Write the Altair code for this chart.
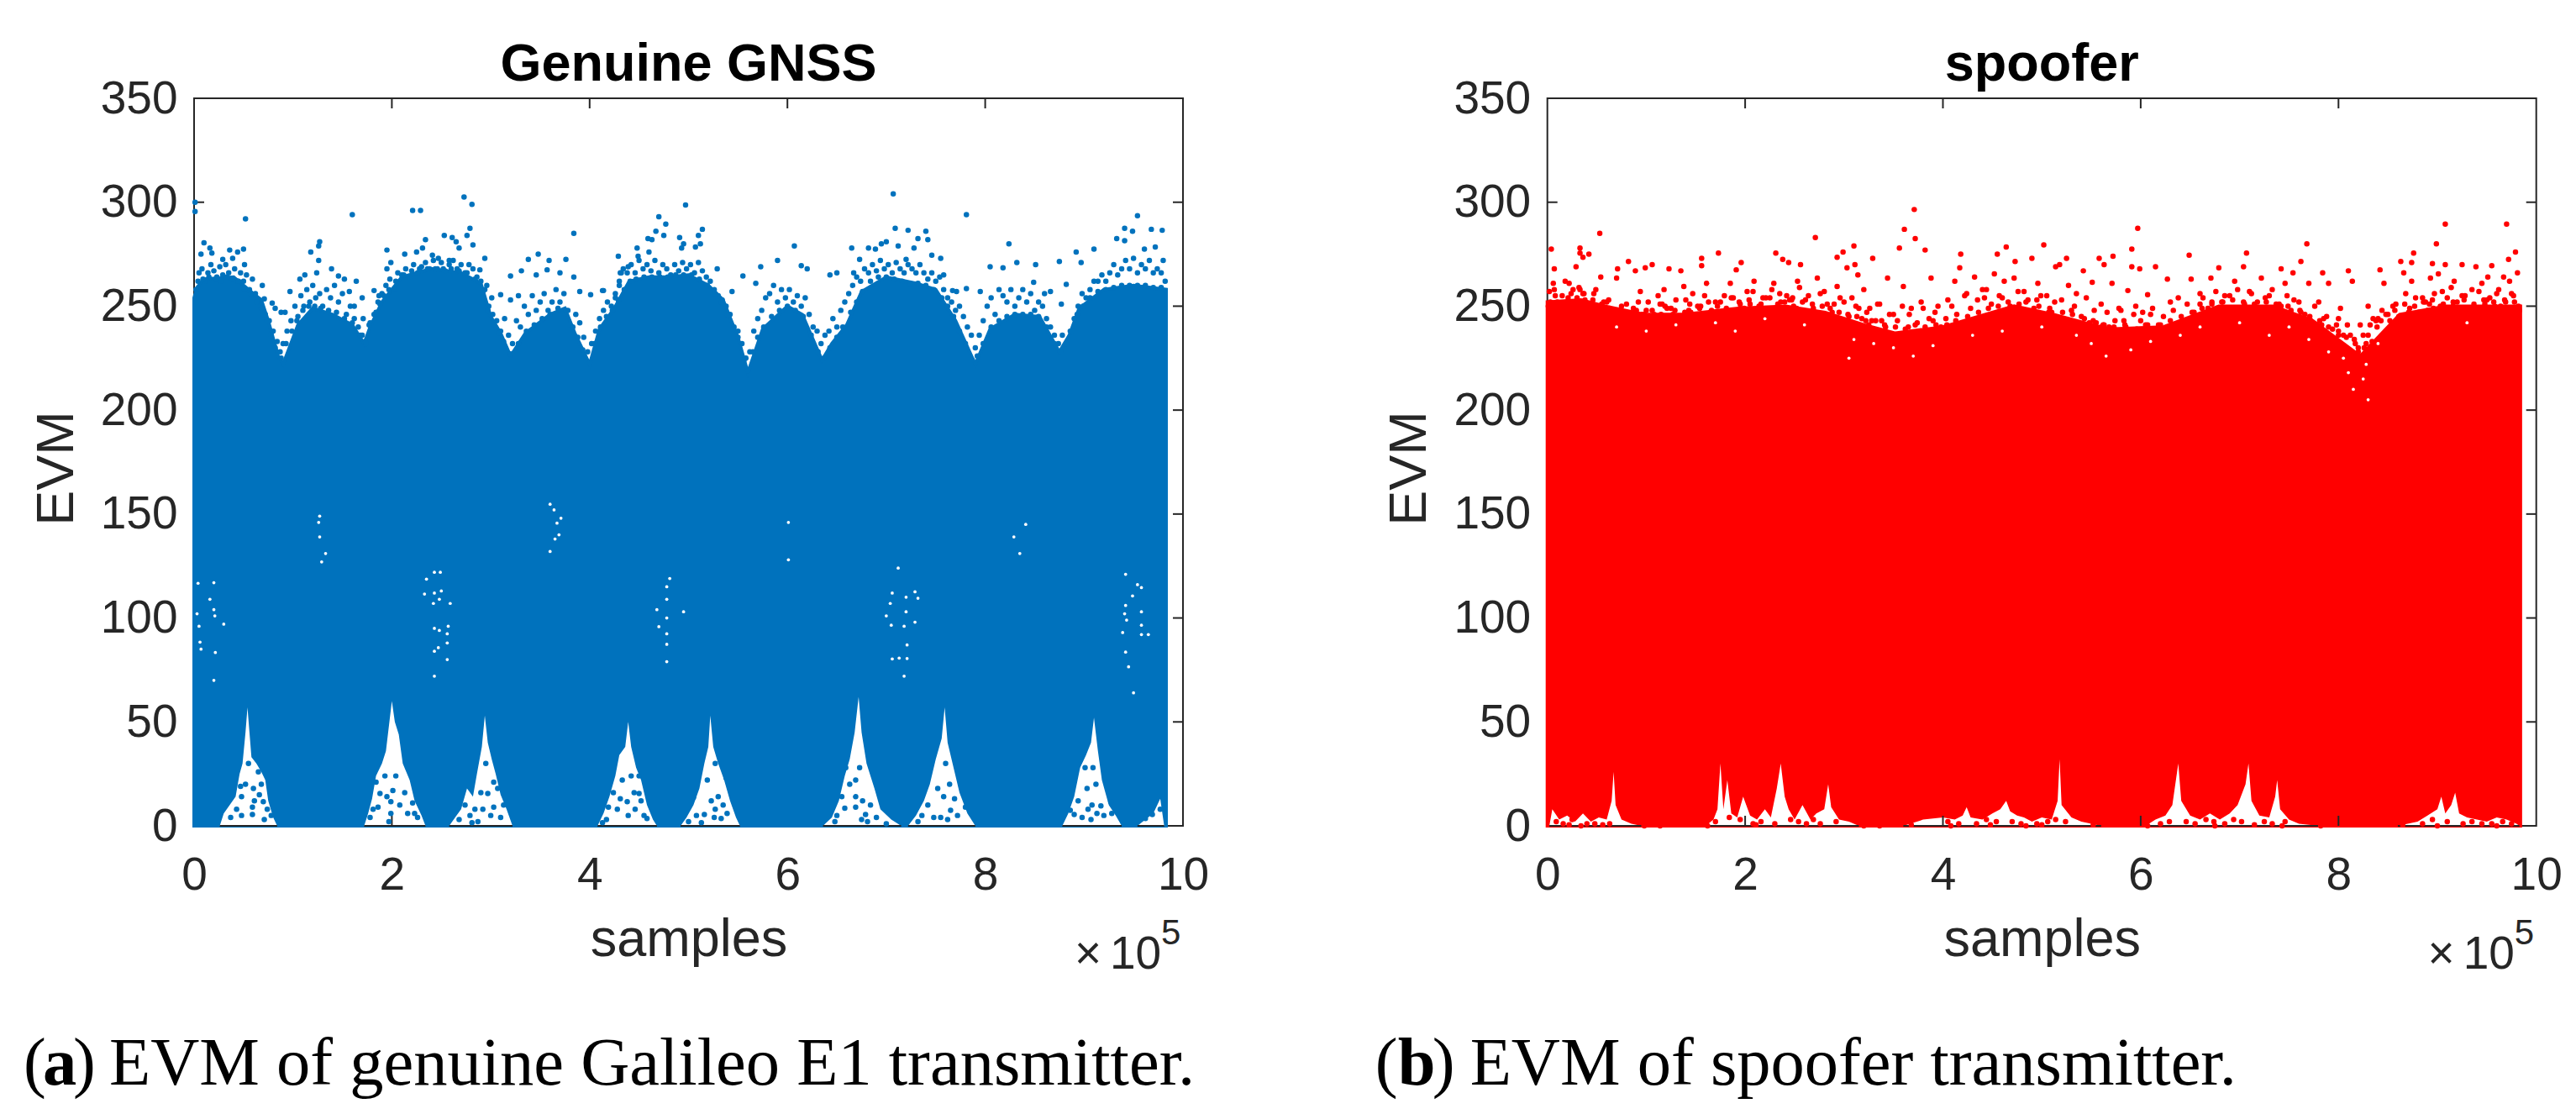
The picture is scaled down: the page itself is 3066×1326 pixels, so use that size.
import altair as alt
import pandas as pd

# ---------- values (x in units of 10^5 samples, y = EVM) ----------
TICKS_X = [0, 2, 4, 6, 8, 10]
TICKS_Y = [0, 50, 100, 150, 200, 250, 300, 350]
BLUE = "#0072BD"
RED = "#FF0000"
INK = "#262626"

# Genuine GNSS: top of the solid mass
g_top_x = [0, .03, .1, .4, .6, .68, .75, .85, .9, 1.05, 1.2, 1.4, 1.6, 1.72, 1.78, 1.9, 2.1, 2.4, 2.7, 2.9, 3.0, 3.1, 3.2,
           3.35, 3.6, 3.75, 3.85, 4.0, 4.1, 4.25, 4.4, 4.6, 4.8, 5.0, 5.2, 5.35, 5.5, 5.6, 5.75, 6.0, 6.15, 6.35, 6.45, 6.6,
           6.75, 7.0, 7.3, 7.5, 7.7, 7.9, 8.05, 8.3, 8.55, 8.75, 8.85, 8.95, 9.2, 9.5, 9.83]
g_top_y = [254, 259, 263, 264, 256, 253, 243, 226, 222, 241, 249, 246, 241, 232, 240, 252, 264, 268, 266, 261, 245, 237, 226,
           237, 246, 249, 237, 222, 239, 249, 262, 264, 264, 265, 260, 253, 235, 218, 239, 250, 246, 224, 232, 241,
           257, 264, 261, 258, 243, 222, 239, 246, 245, 228, 236, 249, 258, 260, 258]

# Genuine GNSS: white notches at the bottom (None separates notches)
g_low_x = [.26, .30, .36, .42, .46, .49, .52, .54, .56, .58, .63, .68, .72, .75, .80, .84, 1.0,
           1.72, 1.76, 1.80, 1.84, 1.90, 1.94, 1.97, 2.0, 2.03, 2.07, 2.11, 2.18, 2.23, 2.30, 2.34, 2.4,
           2.58, 2.64, 2.70, 2.76, 2.82, 2.86, 2.91, 2.94, 2.97, 3.01, 3.05, 3.1, 3.16, 3.22, 3.5,
           4.08, 4.14, 4.2, 4.26, 4.3, 4.36, 4.39, 4.42, 4.47, 4.52, 4.58, 4.64, 4.68, 4.8,
           4.92, 4.98, 5.05, 5.11, 5.16, 5.2, 5.22, 5.25, 5.3, 5.36, 5.42, 5.48, 5.52, 6.0,
           6.36, 6.45, 6.52, 6.58, 6.63, 6.68, 6.72, 6.75, 6.8, 6.88, 6.94, 7.05, 7.15, 7.18,
           7.22, 7.3, 7.38, 7.44, 7.5, 7.56, 7.59, 7.62, 7.68, 7.74, 7.82, 7.9, 8.3,
           8.78, 8.84, 8.9, 8.96, 9.02, 9.07, 9.1, 9.14, 9.18, 9.25, 9.32, 9.38, 9.45,
           9.54, 9.62, 9.7, 9.77, 9.81]
g_low_y = [0, 6, 10, 14, 25, 30, 45, 57, 45, 33, 30, 26, 22, 12, 4, 0, None,
           0, 6, 13, 24, 30, 36, 48, 60, 50, 44, 30, 22, 12, 5, 0, None,
           0, 4, 8, 18, 14, 25, 38, 53, 40, 32, 25, 15, 8, 0, None,
           0, 6, 14, 24, 34, 38, 50, 38, 28, 22, 10, 3, 0, None,
           0, 4, 10, 18, 30, 38, 53, 38, 30, 22, 12, 4, 0, None,
           0, 4, 12, 24, 32, 45, 62, 45, 30, 18, 8, 3, 0, None,
           0, 5, 12, 20, 32, 42, 57, 40, 28, 16, 6, 0, None,
           0, 6, 14, 28, 34, 40, 52, 36, 22, 10, 5, 0, None,
           0, 3, 6, 13, 0]
g_span_x = [.26, 1.72, 2.58, 4.08, 4.92, 6.36, 7.22, 8.78, 9.54]
g_span_x2 = [.84, 2.34, 3.22, 4.68, 5.52, 7.15, 7.9, 9.38, 9.81]
g_notch_ticks = [2]

# Genuine GNSS: white specks inside the mass
g_gap_x = [1.27, 1.26, 1.27, 1.33, 1.29, 3.64, 3.6, 3.71, 3.67, 3.69, 3.65, 3.6, .04, .2, .16, .03, .2, .21, .05, .3, .06, .07, .215, .2,
           2.49, 2.43, 2.35, 2.5, 2.43, 2.48, 2.33, 2.42, 2.59, 2.43, 2.48, 2.56, 2.57, 2.47, 2.43, 2.56, 2.43, 2.56,
           4.78, 4.78, 4.68, 4.95, 4.78, 4.7, 4.78, 4.78, 4.81, 4.78,
           6.01, 6.01, 8.29, 8.41, 8.35, 7.06, 7.2, 7.29, 7.32, 7.04, 7.2, 7.0, 7.05, 7.18, 7.29, 7.21, 7.13, 7.06, 7.21, 7.12, 7.18,
           9.41, 9.42, 9.43, 9.39, 9.42, 9.54, 9.58, 9.49, 9.58, 9.58, 9.65, 9.58, 9.42, 9.45, 9.5]
g_gap_y = [149, 146, 139, 131, 127, 152, 154.7, 148, 145.6, 140, 138, 132, 116.7, 117, 109, 102, 104, 101, 96, 97, 88.4, 85, 83.4, 70,
           122, 122, 118.7, 113, 112, 109, 111.5, 107, 107, 95, 94, 92.4, 96, 85.7, 84, 80, 72, 88,
           115, 109, 104, 103, 100, 95.8, 92.4, 87.3, 119, 79,
           146, 128, 139, 145, 131, 112, 110, 112.6, 109.5, 107, 103, 101, 96.5, 96, 98, 87, 80.7, 80.3, 80.5, 124, 72,
           102, 106, 99, 93, 121, 116, 114.6, 110.6, 103, 96.5, 92, 92, 83.6, 76.5, 64]

# Genuine GNSS: single dots
g_dot_x = [.01, .01, .52, 1.6, 2.21, 2.29, 2.73, 2.81, 2.79, 2.76, 2.53, 2.61, 2.65, 2.82, 2.68, 2.34, 2.31, 3.84, 1.95, 1.27, 1.26, 1.18, 1.26,
           .1, .16, .07, .18, .36, .44, .5, .29, .39, .51, 3.48, 3.38, 3.59, 3.76, 3.31, 3.2, 2.94, 4.29, 4.48, 4.7, 4.77, 4.67, 4.59, 4.75, 4.63, 4.49, 4.6, 4.39,
           .69, .71, .79, .82, .88, .92, .97, 1.07, 1.12, 1.24, 1.39, 1.46, 1.52, 1.64, 1.57, 1.7, 1.62, 1.71, 1.82, 1.87, 1.95, 1.99, 2.13, 2.25, 2.41, 2.47, 2.58,
           2.89, 2.96, 3.01, 3.1, 3.2, 3.28, 3.46, 3.57, 3.7, 3.84, 3.9, 4.01, 4.13, 4.26, 4.3, 4.31,
           4.97, 7.07, 7.09, 7.22, 7.4, 7.81, 7.42, 7.32, 7.0, 6.95, 6.82, 6.89, 6.65, 7.12, 7.28, 6.07, 5.14, 5.1, 5.12, 4.91, 4.95, 4.93, 5.07, 8.24,
           9.41, 9.49, 9.54, 9.68, 9.79, 9.33, 9.41, 8.92, 9.1, 9.72, 9.61, 9.8, 8.75, 8.51, 8.32, 8.18, 8.05, 7.55, 7.46, 7.2, 6.73, 5.9, 5.73, 6.14, 6.2, 5.29, 5.55, 5.44, 5.68,
           6.43, 6.5, 6.67, 7.58, 7.67, 7.71, 7.81, 7.95, 8.49, 8.82, 8.66, 8.6, 8.77, 8.97, 4.14, 4.32,
           .33, .48, .48, .59, .59, .71, .78, .65, .61, .7, 1.84, 1.88, 1.99, 1.99, 2.01, 2.21, 2.23, 1.81, 1.97,
           2.81, 2.87, 2.84, 2.92, 3.03, 3.07, 3.03, 2.97, 4.31, 4.39, 4.5, 4.52, 4.5, 4.13, 4.19, 4.38, 4.58,
           5.13, 5.16, 5.27, 5.33, 5.35, 5.38, 5.27, 5.05, 6.58, 6.69, 6.69, 6.69, 6.79, 6.81, 6.59, 6.48,
           7.55, 7.65, 7.8, 7.69, 7.48, 7.32, 8.9, 8.86, 9.07, 9.08, 9.17, 9.09, 9.01, 9.27, 9.28, 9.77, 9.69, 9.62]
g_dot_y = [300, 295.5, 292, 294, 296, 296, 302.5, 299, 287.5, 284, 284, 283, 281, 279.5, 278, 282, 278, 285, 277, 281, 279, 276, 272,
           280.5, 278, 275, 275.5, 277, 276, 277.5, 272.5, 273, 270, 275, 272.5, 272, 272.5, 267, 264.5, 273, 274, 278, 293, 289.5, 286, 282.5, 284, 282, 274, 276, 269,
           260, 253.5, 251.5, 249, 247, 247, 257, 263, 265, 266, 268, 264.5, 263, 262, 257, 254, 250, 244, 257.5, 255, 268, 271, 275, 276, 274.5, 273, 272,
           267.5, 260, 254, 255.5, 253, 255, 265, 267.5, 266, 264, 257, 255.5, 257.5, 254, 260, 266,
           298.7, 304, 287.5, 286.5, 286, 294, 282, 282.5, 281, 280, 278, 277.5, 278, 279, 278, 279, 287, 284, 280, 283, 280, 278, 278.5, 280,
           287.5, 286, 293.5, 287, 286.5, 282.5, 281.5, 276, 277.5, 278.5, 277.5, 272, 271.5, 270, 271, 268.5, 269, 273, 274.5, 272.5, 272.5, 272, 269, 269.5, 268, 268, 264.5, 257, 261,
           265, 266, 266, 265, 257.5, 257, 258.5, 257, 261.5, 260.5, 257, 256, 251, 271, 257.5, 266,
           11, 14, 5, 9, 5.5, 3, 5, 26, 12, 11.6, 21, 15.6, 11.6, 6, 17, 11, 6, 8, 2,
           1.5, 2, 8, 8, 9, 18, 21, 15.6, 13, 5, 15.6, 12, 24, 1.5, 9, 11.6, 3.5,
           1.5, 5.5, 8, 3.5, 10, 23, 30, 13.6, 8.5, 22, 14, 9, 5.5, 2, 28, 2,
           4, 7.5, 9, 13, 4, 2, 5.5, 7.5, 3, 10, 9.6, 28, 28, 11.6, 6, 8, 5.5, 3.5]

# Genuine GNSS: the dense fringe just above the solid mass
g_fr_x = [.02, .05, .08, .11, .14, .17, .2, .23, .26, .29, .32, .35, .38, .41, .44, .47, .5, .53, .56, .59, .62, .65, .68, .72, .76, .8, .84, .87, .9, .94, .98,
          1.02, 1.05, 1.08, 1.11, 1.14, 1.17, 1.2, 1.23, 1.27, 1.3, 1.34, 1.38, 1.42, 1.46, 1.5, 1.54, 1.58, 1.62, 1.66, 1.7, 1.74, 1.78, 1.82, 1.86, 1.9, 1.94, 1.98,
          2.02, 2.06, 2.1, 2.14, 2.18, 2.22, 2.26, 2.3, 2.34, 2.38, 2.42, 2.46, 2.5, 2.54, 2.58, 2.62, 2.66, 2.7, 2.74, 2.78, 2.82, 2.86, 2.9, 2.94, 2.98,
          3.02, 3.06, 3.1, 3.14, 3.18, 3.22, 3.26, 3.3, 3.34, 3.38, 3.42, 3.46, 3.5, 3.54, 3.58, 3.62, 3.66, 3.7, 3.74, 3.78, 3.82, 3.86, 3.9, 3.94, 3.98,
          4.02, 4.06, 4.1, 4.14, 4.18, 4.22, 4.26, 4.3, 4.34, 4.38, 4.42, 4.46, 4.5, 4.54, 4.58, 4.62, 4.66, 4.7, 4.74, 4.78, 4.82, 4.86, 4.9, 4.94, 4.98,
          5.02, 5.06, 5.1, 5.14, 5.18, 5.22, 5.26, 5.3, 5.34, 5.38, 5.42, 5.46, 5.5, 5.54, 5.58, 5.62, 5.66, 5.7, 5.74, 5.78, 5.82, 5.86, 5.9, 5.94, 5.98,
          6.02, 6.06, 6.1, 6.14, 6.18, 6.22, 6.26, 6.3, 6.34, 6.38, 6.42, 6.46, 6.5, 6.54, 6.58, 6.62, 6.66, 6.7, 6.74, 6.78, 6.82, 6.86, 6.9, 6.94, 6.98,
          7.02, 7.06, 7.1, 7.14, 7.18, 7.22, 7.26, 7.3, 7.34, 7.38, 7.42, 7.46, 7.5, 7.54, 7.58, 7.62, 7.66, 7.7, 7.74, 7.78, 7.82, 7.86, 7.9, 7.94, 7.98,
          8.02, 8.06, 8.1, 8.14, 8.18, 8.22, 8.26, 8.3, 8.34, 8.38, 8.42, 8.46, 8.5, 8.54, 8.58, 8.62, 8.66, 8.7, 8.74, 8.78, 8.82, 8.86, 8.9, 8.94, 8.98,
          9.02, 9.06, 9.1, 9.14, 9.18, 9.22, 9.26, 9.3, 9.34, 9.38, 9.42, 9.46, 9.5, 9.54, 9.58, 9.62, 9.66, 9.7, 9.74, 9.78, 9.82]
g_fr_y = [258, 266, 268, 262, 266, 270, 267, 264, 269, 265, 270, 266, 263, 268, 262, 266, 262, 265, 258, 263, 256, 252, 249, 246, 243, 238, 233, 228, 232, 238, 243,
          250, 245, 255, 250, 258, 252, 260, 254, 256, 250, 258, 254, 260, 252, 256, 246, 250, 244, 240, 236, 232, 242, 246, 252, 256, 260, 263,
          258, 266, 265, 268, 264, 270, 266, 269, 271, 268, 272, 268, 271, 267, 270, 272, 268, 270, 266, 270, 268, 264, 262, 258, 250,
          246, 243, 238, 244, 236, 232, 243, 240, 250, 246, 255, 248, 252, 256, 248, 252, 258, 252, 256, 248, 240, 246, 242, 235, 228,
          232, 238, 244, 248, 252, 250, 256, 262, 268, 266, 270, 266, 272, 268, 270, 267, 272, 266, 270, 268, 265, 270, 267, 271, 268,
          270, 266, 271, 267, 264, 262, 258, 255, 253, 250, 246, 240, 238, 232, 225, 228, 238, 244, 248, 254, 256, 260, 252, 258, 254,
          258, 252, 255, 250, 254, 246, 240, 238, 232, 236, 238, 244, 240, 248, 252, 256, 260, 264, 262, 268, 266, 270, 267, 272, 268,
          270, 266, 271, 268, 266, 270, 268, 266, 270, 266, 263, 266, 262, 264, 258, 254, 252, 248, 250, 245, 240, 236, 230, 236, 243,
          250, 254, 246, 258, 255, 252, 258, 250, 254, 258, 252, 256, 248, 252, 250, 244, 240, 236, 232, 236, 232, 238, 244, 250, 256,
          254, 258, 262, 262, 265, 262, 266, 270, 265, 268, 272, 268, 273, 266, 270, 268, 272, 266, 268, 266, 262]

# Genuine GNSS: a second row of the fringe, closer to the solid mass
g_f2_x = [.04, .09, .15, .22, .27, .33, .39, .45, .51, .57, .63, .7, .74, .78, .82, .88, .93, .99, 1.04, 1.1, 1.16, 1.22, 1.28, 1.36, 1.44, 1.52, 1.6, 1.68, 1.73, 1.77, 1.84, 1.88, 1.92, 1.97,
          2.04, 2.12, 2.2, 2.28, 2.36, 2.44, 2.52, 2.6, 2.68, 2.76, 2.84, 2.92, 2.97, 3.03, 3.08, 3.13, 3.2, 3.28, 3.36, 3.44, 3.52, 3.6, 3.68, 3.76, 3.83, 3.88, 3.93,
          4.0, 4.05, 4.11, 4.17, 4.23, 4.29, 4.35, 4.41, 4.47, 4.55, 4.63, 4.71, 4.79, 4.87, 4.95, 5.03, 5.11, 5.19, 5.27, 5.33, 5.39, 5.45, 5.5, 5.56, 5.6, 5.65, 5.7, 5.76, 5.84, 5.92,
          6.0, 6.08, 6.16, 6.24, 6.31, 6.37, 6.43, 6.5, 6.56, 6.64, 6.7, 6.76, 6.84, 6.92, 7.0, 7.08, 7.16, 7.24, 7.32, 7.4, 7.48, 7.56, 7.62, 7.68, 7.74, 7.8, 7.87, 7.92, 7.98,
          8.06, 8.14, 8.22, 8.3, 8.38, 8.46, 8.54, 8.62, 8.7, 8.76, 8.82, 8.88, 8.93, 8.99, 9.06, 9.14, 9.22, 9.3, 9.38, 9.46, 9.54, 9.62, 9.7, 9.78]
g_f2_y = [262, 263, 264, 263, 262, 264, 263, 262, 258, 256, 252, 246, 243, 236, 230, 225, 232, 238, 243, 248, 250, 250, 249, 248, 247, 244, 242, 236, 233, 241, 247, 251, 255, 258,
          262, 265, 267, 268, 268, 268, 268, 268, 267, 266, 263, 257, 248, 241, 237, 233, 227, 232, 238, 241, 244, 246, 249, 248, 240, 235, 229,
          223, 232, 240, 245, 248, 253, 258, 262, 263, 264, 264, 264, 264, 265, 265, 265, 263, 260, 256, 252, 246, 239, 235, 224, 219, 228, 235, 240, 245, 248,
          250, 248, 245, 236, 228, 225, 230, 235, 240, 247, 252, 257, 262, 264, 264, 263, 262, 261, 261, 260, 258, 254, 250, 245, 238, 232, 224, 226, 232,
          240, 243, 245, 246, 246, 246, 245, 240, 232, 228, 232, 238, 246, 250, 254, 257, 258, 259, 260, 260, 260, 260, 259, 259]

# Genuine GNSS: more dots standing in the notches
g_n2_x = [.37, .43, .47, .52, .55, .6, .66, .68, .74, 1.78, 1.86, 1.93, 1.95, 2.04, 2.08, 2.13, 2.16, 2.26,
          2.68, 2.74, 2.79, 2.9, 2.95, 3.0, 3.1, 3.13, 4.17, 4.24, 4.28, 4.33, 4.42, 4.46, 4.55, 4.45,
          5.0, 5.08, 5.19, 5.23, 5.3, 5.26, 5.39, 6.5, 6.55, 6.63, 6.73, 6.76, 6.84, 6.9, 6.75, 7.0,
          7.36, 7.42, 7.52, 7.6, 7.58, 7.64, 7.72, 7.62, 8.94, 8.98, 9.03, 9.12, 9.13, 9.2, 9.04]
g_n2_y = [4, 8, 19, 20, 30, 18, 15, 20, 8, 4, 9, 24, 14, 24, 10, 16, 6, 4,
          3, 10, 5, 16, 30, 5, 4, 10, 3, 16, 8, 22, 24, 8, 5, 16,
          2, 5, 22, 12, 14, 4, 6, 5, 14, 20, 28, 12, 10, 4, 3, 1,
          5, 10, 18, 30, 14, 20, 5, 3, 12, 4, 18, 20, 6, 5, 8]

# Spoofer: top of the solid mass
s_top_x = [0, .34, .58, .98, 1.38, 1.93, 2.41, 2.81, 3.2, 3.52, 4.0, 4.72, 5.12, 5.67, 6.23, 6.79, 7.34, 7.74, 8.22, 8.62, 9.09, 9.84]
s_top_y = [252, 253, 250, 246, 246, 249, 250, 247, 241, 237, 240, 250, 246, 239, 240, 250, 250, 243, 226, 246, 250, 250]

# Spoofer: white gaps along the bottom
s_low_x = [.02, .05, .12, .2, .28, .36, .44, .52, .6, .65, .67, .69, .75, .85, .95, 1.2,
           1.6, 1.68, 1.72, 1.75, 1.78, 1.82, 1.86, 1.92, 1.98, 2.05, 2.12, 2.2, 2.26, 2.32, 2.36, 2.4, 2.44, 2.5, 2.58, 2.66, 2.72, 2.8, 2.84, 2.87, 2.95, 3.05, 3.15, 3.3,
           3.6, 3.8, 4.0, 4.12, 4.2, 4.24, 4.28, 4.4, 4.5, 4.58, 4.64, 4.68, 4.75, 4.82, 4.9, 5.0, 5.1, 5.16, 5.18, 5.2, 5.3, 5.4, 5.6, 5.8,
           6.05, 6.15, 6.25, 6.32, 6.38, 6.41, 6.5, 6.6, 6.7, 6.8, 6.9, 6.98, 7.06, 7.09, 7.12, 7.2, 7.3, 7.36, 7.38, 7.41, 7.5, 7.6, 7.8, 8.2,
           8.6, 8.8, 8.9, 9.0, 9.04, 9.08, 9.14, 9.18, 9.22, 9.3, 9.4, 9.5, 9.6, 9.7, 9.8, 9.83]
s_low_y = [0, 8, 3, 5, 2, 6, 2, 4, 3, 12, 26, 10, 3, 1, 0, None,
           0, 3, 8, 30, 8, 22, 6, 4, 14, 5, 3, 8, 4, 18, 30, 14, 8, 3, 10, 3, 6, 8, 20, 9, 3, 2, 0, None,
           0, 3, 4, 3, 5, 9, 4, 3, 6, 8, 12, 7, 5, 4, 2, 4, 3, 12, 32, 10, 4, 2, 0, None,
           0, 3, 5, 10, 30, 12, 5, 3, 6, 3, 6, 10, 20, 30, 12, 5, 4, 14, 22, 8, 3, 1, 0, None,
           0, 2, 5, 8, 14, 6, 10, 16, 6, 4, 3, 2, 4, 3, 1, 0]
s_span_x = [.02, 1.6, 3.6, 6.05, 8.6]
s_span_x2 = [.95, 3.15, 5.6, 7.8, 9.83]
s_notch_ticks = [2, 4, 6, 8]

# Spoofer: white specks in the upper part of the mass
s_gap_x = [.7, 1.0, 1.3, 1.7, 2.2, 2.6, 3.1, 3.3, 3.5, 3.7, 3.9, 4.3, 5.0, 5.35, 5.5, 5.65, 5.9, 6.1, 6.4, 7.0, 7.5, 7.7, 7.9, 8.1, 8.15, 8.25, 8.3, 8.28, 8.4, 9.3, 3.05, 4.6, 1.9, 6.6, 7.3, 8.05]
s_gap_y = [240, 238, 241, 242, 244, 241, 234, 232, 230, 226, 231, 236, 240, 236, 232, 226, 229, 233, 236, 242, 240, 234, 228, 218, 210, 215, 205, 222, 232, 242, 225, 238, 238, 240, 236, 225]

# Spoofer: single dots
s_dot_x = [3.71, 3.61, 3.72, 3.82, 3.56, 2.71, 3.1, 2.99, 2.93, 3.29, 3.03, 3.14, 3.11, 2.31, 2.38, 2.44, 2.56, 1.73, 1.56, 1.56, 1.96, 1.91, .53, .04, .33, .42, .33, .36, .29, .82, 1.06, .71, .07, 1.23, 1.35, .99, .89,
           4.18, 4.17, 4.55, 4.64, 4.73, 4.9, 5.02, 5.18, 5.14, 5.25, 5.42, 5.58, 5.72, 5.63, 5.97, 5.91, 5.91, 5.99, 6.15, 6.49, 7.07, 7.68, 7.62, 6.79, 7.04, 7.42, 7.54, 7.84, 8.1, 8.42, 8.63, 8.76, 8.74, 8.99, 9.08, 9.7, 9.79, 9.72, 9.08, 8.95, 9.25, 9.39, 9.55, 9.81, 9.67, 9.51, 9.01, 8.66,
           .06, .22, .54, .7, .94, 1.18, 1.38, 1.61, 1.85, 2.09, 2.29, 2.53, 2.73, 2.93, 3.2, 3.44, 3.6, 3.88, 4.12, 4.32, 4.52, 4.72, 4.96, 5.27, 5.51, 5.71, 5.87, 6.07, 6.27, 6.51, 6.71, 6.95, 7.22, 7.46, 7.7, 7.9, 8.14, 8.3, 8.46, 8.74, 8.93, 9.17, 9.45, 9.73,
           .15, .3, .47, .62, .8, 1.02, 1.12, 1.3, 1.47, 1.7, 1.79, 2.02, 2.18, 2.35, 2.47, 2.64, 2.8, 3.0, 3.08, 3.26, 3.36, 3.5, 3.68, 3.78, 3.95, 4.05, 4.24, 4.4, 4.6, 4.82, 5.05, 5.2, 5.35, 5.45, 5.6, 5.8, 5.95, 6.12, 6.38, 6.6, 6.85, 7.1, 7.3, 7.55, 7.8, 8.02, 8.22, 8.35, 8.55, 8.68, 8.85, 9.05, 9.25, 9.35, 9.6, 9.77,
           .02, .2, .33, .55, .9, 1.25, 1.55, 1.95, 2.05, 2.4, 2.45, 2.9, 3.15, 3.25, 3.38, 3.65, 3.9, 4.42, 4.95, 5.3, 5.55, 5.68, 5.83, 6.02, 6.3, 6.72, 7.18, 7.62, 7.85, 7.98, 8.12, 8.28, 8.38, 8.92, 9.5,
           .23, .36, .57, .98, 1.14, 1.27, 1.43, 1.56, 1.94, 2.5, 3.3, 3.48, 4.16, 5.1, 5.6, 6.2, 6.6, 7.0, 7.42, 7.78, 8.0, 8.2, 8.96, 9.16, 9.64, 9.82]
s_dot_y = [296.5, 287, 282.5, 277, 278, 283, 279, 276, 273.5, 273, 268.5, 265, 270, 275.5, 272.5, 271, 270, 275.5, 273, 269.5, 271, 267.5, 285, 277.5, 278, 275, 275.5, 273.5, 269, 271.5, 270, 268, 268, 268, 267, 268.5, 267,
           275, 268.5, 275, 278.5, 271.5, 273, 279.5, 270, 269, 273, 267, 273, 274, 270, 287.5, 277.5, 269, 268, 269, 274.5, 275.5, 280, 271.5, 268.5, 269, 268, 266, 266, 267, 267.5, 271.5, 275.5, 271, 280, 289.5, 289.5, 276, 272.5, 270, 270.5, 270, 269, 269.5, 266, 264, 264, 265.5, 266,
           261, 261, 264, 263.5, 257, 258, 259.5, 261, 261, 262, 261, 262, 263.5, 259.5, 258, 263.5, 259.5, 263.5, 262, 264, 265.5, 263.5, 261, 260, 261.5, 261, 257.5, 255.5, 263, 263, 263.5, 262, 263.5, 261, 261, 261, 262, 250, 261, 262, 263.5, 262, 261, 262,
           255, 254, 256, 253, 251, 252, 255, 253, 256, 252, 255, 257, 254, 256, 253, 255, 257, 252, 254, 249, 251, 246, 249, 252, 250, 253, 256, 258, 254, 257, 255, 253, 256, 254, 251, 248, 250, 249, 254, 256, 255, 257, 255, 253, 252, 249, 241, 244, 250, 256, 254, 257, 255, 258, 256, 255,
           257, 252, 258, 250, 248, 249, 250, 249, 251, 252, 253, 251, 249, 241, 243, 240, 243, 254, 253, 248, 242, 240, 243, 247, 252, 252, 252, 247, 244, 241, 236, 232, 243, 251, 253,
           247, 256, 252, 246, 251, 246, 248, 245, 252, 248, 239, 236, 240, 247, 240, 241, 251, 249, 250, 241, 236, 228, 249, 250, 250, 250]

# Spoofer: the dense fringe above the solid mass
s_fr_x = [.03, .08, .13, .18, .24, .28, .32, .38, .43, .49, .52, .6, .65, .75, .78, .85, .92, 1.0, 1.08, 1.16, 1.21, 1.33, 1.4, 1.45, 1.52, 1.59, 1.66, 1.75, 1.82, 1.88, 1.99,
          2.08, 2.14, 2.21, 2.27, 2.33, 2.42, 2.49, 2.55, 2.61, 2.69, 2.76, 2.83, 2.88, 2.96, 3.05, 3.12, 3.18, 3.23, 3.28, 3.34, 3.41, 3.46, 3.54, 3.59, 3.66, 3.74, 3.8, 3.86, 3.92, 3.98,
          4.03, 4.09, 4.14, 4.22, 4.28, 4.35, 4.44, 4.49, 4.57, 4.62, 4.68, 4.76, 4.84, 4.92, 4.99, 5.07, 5.13, 5.22, 5.33, 5.4, 5.48, 5.53, 5.62, 5.66, 5.74, 5.78, 5.85, 5.93, 6.0,
          6.05, 6.1, 6.17, 6.23, 6.33, 6.42, 6.47, 6.54, 6.63, 6.68, 6.76, 6.83, 6.9, 6.98, 7.05, 7.12, 7.2, 7.26, 7.33, 7.4, 7.48, 7.52, 7.6, 7.66, 7.72, 7.76, 7.83, 7.88, 7.94, 8.0,
          8.05, 8.09, 8.16, 8.2, 8.25, 8.32, 8.4, 8.44, 8.5, 8.58, 8.65, 8.72, 8.78, 8.83, 8.88, 8.97, 9.03, 9.1, 9.14, 9.2, 9.28, 9.33, 9.42, 9.48, 9.53, 9.58, 9.62, 9.69, 9.75, 9.8]
s_fr_y = [252, 255, 249, 262, 256, 251, 259, 253, 248, 258, 250, 252, 246, 250, 247, 245, 252, 248, 246, 251, 249, 244, 253, 247, 250, 255, 248, 252, 246, 254, 249,
          257, 250, 254, 258, 251, 255, 250, 259, 253, 249, 256, 251, 247, 254, 245, 250, 244, 247, 243, 251, 241, 246, 243, 250, 246, 242, 249, 244, 247, 240,
          244, 250, 246, 255, 249, 253, 258, 251, 255, 262, 250, 257, 252, 249, 255, 247, 252, 244, 250, 245, 242, 248, 241, 247, 243, 249, 240, 246, 243,
          241, 246, 239, 245, 248, 243, 251, 247, 254, 249, 257, 252, 255, 258, 251, 256, 249, 254, 258, 251, 255, 248, 252, 246, 243, 250, 241, 245, 239, 244,
          236, 241, 234, 230, 236, 241, 244, 248, 246, 251, 243, 249, 254, 247, 252, 256, 250, 254, 259, 252, 255, 249, 257, 251, 254, 250, 258, 252, 256, 249]

# Spoofer: a second row of the fringe
s_f2_x = [.01, .07, .1, .16, .21, .26, .31, .37, .41, .46, .5, .55, .59, .63, .68, .73, .77, .82, .87, .91, .96, 1.01, 1.06, 1.1, 1.15, 1.19, 1.24, 1.29, 1.34, 1.39, 1.44, 1.49, 1.54, 1.58, 1.63, 1.68, 1.72, 1.77, 1.81, 1.86, 1.9, 1.95,
          2.0, 2.04, 2.1, 2.16, 2.2, 2.25, 2.3, 2.36, 2.43, 2.48, 2.52, 2.58, 2.63, 2.68, 2.73, 2.78, 2.82, 2.86, 2.91, 2.95, 3.0, 3.04, 3.09, 3.13, 3.17, 3.22, 3.27, 3.32, 3.37, 3.42, 3.47, 3.52, 3.57, 3.62, 3.67, 3.72, 3.77, 3.82, 3.87, 3.93, 3.99,
          4.04, 4.08, 4.13, 4.19, 4.25, 4.3, 4.36, 4.41, 4.46, 4.51, 4.56, 4.61, 4.66, 4.71, 4.77, 4.81, 4.86, 4.91, 4.97, 5.03, 5.08, 5.15, 5.21, 5.26, 5.31, 5.37, 5.43, 5.47, 5.52, 5.57, 5.63, 5.68, 5.73, 5.79, 5.84, 5.9, 5.96,
          6.01, 6.07, 6.12, 6.18, 6.24, 6.3, 6.36, 6.41, 6.46, 6.52, 6.57, 6.62, 6.67, 6.72, 6.77, 6.82, 6.87, 6.93, 6.99, 7.04, 7.09, 7.15, 7.21, 7.27, 7.32, 7.37, 7.43, 7.49, 7.56, 7.61, 7.67, 7.71, 7.77, 7.81, 7.86, 7.9, 7.95,
          8.0, 8.04, 8.08, 8.12, 8.17, 8.21, 8.26, 8.3, 8.34, 8.39, 8.43, 8.48, 8.52, 8.57, 8.61, 8.67, 8.71, 8.77, 8.81, 8.86, 8.9, 8.95, 9.0, 9.06, 9.11, 9.16, 9.22, 9.27, 9.32, 9.37, 9.43, 9.47, 9.52, 9.57, 9.63, 9.68, 9.73, 9.78, 9.83]
s_f2_y = [250, 258, 252, 250, 254, 258, 252, 256, 249, 253, 247, 251, 246, 249, 244, 248, 243, 246, 249, 243, 246, 244, 248, 243, 246, 250, 244, 248, 243, 247, 251, 245, 249, 244, 252, 246, 250, 245, 249, 254, 247, 251,
          246, 253, 248, 251, 247, 254, 249, 252, 248, 254, 249, 252, 247, 251, 246, 250, 245, 249, 243, 247, 242, 246, 241, 245, 240, 243, 238, 243, 237, 240, 236, 240, 235, 239, 236, 241, 237, 240, 236, 241, 237,
          241, 238, 243, 240, 245, 242, 247, 243, 249, 245, 250, 246, 252, 248, 251, 247, 253, 246, 250, 244, 249, 243, 247, 241, 246, 240, 244, 239, 243, 238, 241, 236, 240, 237, 241, 236, 239,
          236, 241, 237, 241, 238, 243, 240, 245, 241, 247, 243, 249, 246, 251, 247, 252, 248, 253, 249, 252, 247, 251, 246, 252, 248, 251, 247, 250, 244, 248, 241, 245, 239, 243, 236, 240, 233,
          238, 230, 235, 228, 232, 226, 230, 236, 233, 240, 243, 246, 243, 248, 245, 251, 247, 250, 247, 252, 248, 253, 248, 251, 248, 252, 249, 253, 248, 251, 248, 253, 249, 252, 248, 253, 249, 252, 248]

# Spoofer: dots reaching down into the white gaps
s_bot_x = [.22, .34, .56, .98, 1.14, 1.38, 1.62, 2.11, 3.2, 3.36, 3.68, 4.08, 4.48, 4.84, 5.0, 5.52, 6.07, 6.75, 7.15, 7.43, 7.82, 8.65, 9.0, 9.6,
           .09, .16, .25, .4, .48, .63, 1.7, 1.84, 1.95, 2.08, 2.16, 2.3, 2.46, 2.54, 2.62, 2.69, 2.76, 2.92, 4.05, 4.16, 4.34, 4.44, 4.54, 4.7, 4.79, 4.95, 5.06, 5.14, 5.24,
           6.2, 6.29, 6.46, 6.55, 6.66, 6.74, 6.85, 6.94, 7.02, 7.25, 7.33, 7.46, 8.85, 8.95, 9.1, 9.26, 9.35, 9.45, 9.55, 9.66, 9.75]
s_bot_y = [.5, 0, .5, 0, 0, .5, 0, .5, 0, 0, .5, 0, .5, 0, .5, .5, 0, 0, .5, 0, 0, .5, 0, 0,
           2, 1, 3, 1, 1, 1, 2, 4, 3, 1, 2, 1, 3, 2, 1, 3, 1, 2, 2, 1, 1, 3, 2, 2, 1, 1, 2, 3, 2,
           1, 2, 2, 1, 3, 2, 1, 3, 2, 2, 1, 2, 1, 3, 2, 1, 2, 1, 1, 2, 1]

# ---------- layout constants ----------
W, H = 1177, 866
TICK = 12
DOT = 42
FONT = "Liberation Sans"
SERIF = "Liberation Serif"


def frame(**cols):
    return pd.DataFrame(cols)


def text(s, x, y, size, font=FONT, color=INK, align="left", weight="normal"):
    return alt.Chart(frame(a=[0])).mark_text(
        text=s, font=font, fontSize=size, color=color, align=align,
        baseline="alphabetic", fontWeight=weight
    ).encode(x=alt.value(x), y=alt.value(y))


def panel(title, color, top, low, span, nticks, gap, dot_sets, caption_parts):
    xscale = alt.Scale(domain=[0, 10], nice=False, zero=False)
    yscale = alt.Scale(domain=[0, 350], nice=False, zero=False)
    xaxis = alt.Axis(values=TICKS_X, title="samples", grid=False, ticks=False, domain=False,
                     labelFont=FONT, labelFontSize=55, labelColor=INK, labelPadding=32, labelFlush=False,
                     titleFont=FONT, titleFontSize=63, titleColor=INK, titleFontWeight="normal",
                     titlePadding=18, labelOverlap=False, labelAngle=0)
    yaxis = alt.Axis(values=TICKS_Y, title="EVM", grid=False, ticks=False, domain=False,
                     labelFont=FONT, labelFontSize=55, labelColor=INK, labelPadding=20, labelFlush=False,
                     titleFont=FONT, titleFontSize=63, titleColor=INK, titleFontWeight="normal",
                     titlePadding=20, labelOverlap=False, titleY=H / 2 + 7)
    X = alt.X("x:Q", scale=xscale, axis=xaxis)
    Y = alt.Y("y:Q", scale=yscale, axis=yaxis)

    xt = frame(x=TICKS_X[1:-1])
    yt = frame(y=TICKS_Y[1:-1])
    tick_style = dict(color=INK, strokeWidth=2)
    ticks = [
        alt.Chart(xt).mark_rule(**tick_style).encode(x=X, y=alt.value(0), y2=alt.value(TICK)),
        alt.Chart(xt).mark_rule(**tick_style).encode(x=X, y=alt.value(H), y2=alt.value(H - TICK)),
        alt.Chart(yt).mark_rule(**tick_style).encode(y=Y, x=alt.value(0), x2=alt.value(TICK)),
        alt.Chart(yt).mark_rule(**tick_style).encode(y=Y, x=alt.value(W), x2=alt.value(W - TICK)),
    ]

    # solid mass: top envelope down to the axis
    mass = alt.Chart(frame(x=top[0], y=top[1], y0=[0] * len(top[0]))).mark_area(
        color=color, stroke=color, strokeWidth=4, interpolate="linear"
    ).encode(x=X, y=Y, y2="y0:Q")

    notch = alt.Chart(frame(x=low[0], y=pd.Series(low[1], dtype="float"))).mark_area(
        color="white", interpolate="linear"
    ).encode(x=X, y=Y, y2=alt.value(H + 5))

    axis_back = alt.Chart(frame(x=span[0], x1=span[1], y=[0] * len(span[0]))).mark_rule(
        color=INK, strokeWidth=2
    ).encode(x=X, x2="x1:Q", y=Y)

    notch_tick = alt.Chart(frame(x=nticks)).mark_rule(**tick_style).encode(
        x=X, y=alt.value(H), y2=alt.value(H - TICK))

    specks = alt.Chart(frame(x=gap[0], y=gap[1])).mark_point(
        filled=True, color="white", size=14, opacity=1, shape="circle"
    ).encode(x=X, y=Y)

    layers = ticks + [mass, notch, axis_back, notch_tick, specks]
    for dx, dy in dot_sets:
        layers.append(alt.Chart(frame(x=dx, y=dy)).mark_point(
            filled=True, color=color, size=DOT, opacity=1, shape="circle"
        ).encode(x=X, y=Y))

    # scale factor label
    layers += [
        text("\u00d7", 1080, 1036, 55, align="right"),
        text("10", 1090, 1036, 55),
        text("5", 1151, 1007, 42),
    ]
    layers += [text(*p[:4], font=SERIF, color="black", weight=p[4]) for p in caption_parts]

    return alt.layer(*layers).properties(
        width=W, height=H,
        title=alt.TitleParams(title, font=FONT, fontSize=63, fontWeight="bold", color="black",
                              anchor="middle", offset=-19),
    )


CAP_Y = 1174
CAP = 80.5
left = panel("Genuine GNSS", BLUE, (g_top_x, g_top_y), (g_low_x, g_low_y),
             (g_span_x, g_span_x2), g_notch_ticks, (g_gap_x, g_gap_y),
             [(g_dot_x, g_dot_y), (g_fr_x, g_fr_y), (g_f2_x, g_f2_y), (g_n2_x, g_n2_y)],
             [("(", -203, CAP_Y, CAP, "normal"), ("a", -180, CAP_Y, CAP, "bold"), (")", -144, CAP_Y, CAP, "normal"),
              ("EVM of genuine Galileo E1 transmitter.", -101, CAP_Y, CAP, "normal")])
right = panel("spoofer", RED, (s_top_x, s_top_y), (s_low_x, s_low_y),
              (s_span_x, s_span_x2), s_notch_ticks, (s_gap_x, s_gap_y),
              [(s_dot_x, s_dot_y), (s_fr_x, s_fr_y), (s_f2_x, s_f2_y), (s_bot_x, s_bot_y)],
              [("(", -205, CAP_Y, CAP, "normal"), ("b", -178, CAP_Y, CAP, "bold"), (")", -137, CAP_Y, CAP, "normal"),
               ("EVM of spoofer transmitter.", -92, CAP_Y, CAP, "normal")])

chart = alt.hconcat(left, right, spacing=433.7, bounds="flush").properties(
    padding={"left": 19, "top": 37, "right": 5, "bottom": 5},
    background="white",
).configure_view(stroke=INK, strokeWidth=2)

chart.save("out.html", embed_options={"renderer": "svg", "actions": False})
